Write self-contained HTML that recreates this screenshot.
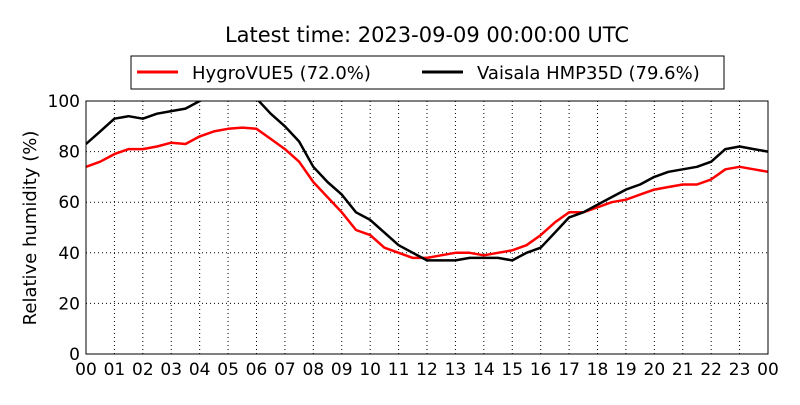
<!DOCTYPE html>
<html><head><meta charset="utf-8"><style>
body{margin:0;background:#fff;width:800px;height:400px;overflow:hidden}
svg{font-family:"DejaVu Sans","Liberation Sans",sans-serif}
</style></head><body>
<svg id="chart" width="800" height="400" xmlns="http://www.w3.org/2000/svg">
<defs><clipPath id="clip"><rect x="86" y="101" width="682" height="253"/></clipPath></defs>
<text x="427" y="42" font-size="21" text-anchor="middle">Latest time: 2023-09-09 00:00:00 UTC</text>
<g>
<rect x="131" y="56" width="593" height="33" fill="#fff" stroke="#000" stroke-width="1"/>
<line x1="137" y1="72" x2="178" y2="72" stroke="#f00" stroke-width="3"/>
<text x="192" y="79" font-size="18">HygroVUE5 (72.0%)</text>
<line x1="422" y1="72" x2="463" y2="72" stroke="#000" stroke-width="3"/>
<text x="477" y="79" font-size="18">Vaisala HMP35D (79.6%)</text>
</g>
<g id="grid"></g>
<g id="series" clip-path="url(#clip)"></g>
<rect x="86" y="101" width="682" height="253" fill="none" stroke="#000" stroke-width="1"/>
<g id="axes"></g>
<text transform="translate(36,228) rotate(-90)" font-size="18" text-anchor="middle">Relative humidity (%)</text>
</svg>
<script>
const hours=[0,0.5,1,1.5,2,2.5,3,3.5,4,4.5,5,5.5,6,6.5,7,7.5,8,8.5,9,9.5,10,10.5,11,11.5,12,12.5,13,13.5,14,14.5,15,15.5,16,16.5,17,17.5,18,18.5,19,19.5,20,20.5,21,21.5,22,22.5,23,23.5,24];
const hygro=[74,76,79,81,81,82,83.5,83,86,88,89,89.5,89,85,81,76,68,62,56,49,47,42,40,38,38,39,40,40,39,40,41,43,47,52,56,56,58,60,61,63,65,66,67,67,69,73,74,73,72];
const vaisala=[83,88,93,94,93,95,96,97,100,103,105,104,101,95,90,84,74,68,63,56,53,48,43,40,37,37,37,38,38,38,37,40,42,48,54,56,59,62,65,67,70,72,73,74,76,81,82,81,80];
const xTicks=["00","01","02","03","04","05","06","07","08","09","10","11","12","13","14","15","16","17","18","19","20","21","22","23","00"];
const yTicks=[0,20,40,60,80,100];
const NS="http://www.w3.org/2000/svg";
const X=h=>86+h*682/24, Y=v=>354-v*253/100;
const grid=document.getElementById('grid'),axes=document.getElementById('axes'),series=document.getElementById('series');
function mk(t,a,p){const e=document.createElementNS(NS,t);for(const k in a)e.setAttribute(k,a[k]);p.appendChild(e);return e;}
xTicks.forEach((t,i)=>{const x=X(i);
 const g=mk('line',{x1:x,x2:x,y1:101,y2:354,stroke:'#000','stroke-dasharray':'1,3','stroke-width':1},grid);
 
 
 const tx=mk('text',{x:x,y:375,'font-size':17,'text-anchor':'middle'},axes);tx.textContent=t;
 
 
});
yTicks.forEach(v=>{const y=Y(v);
 const g=mk('line',{x1:86,x2:768,y1:y,y2:y,stroke:'#000','stroke-dasharray':'1,3','stroke-width':1},grid);
 
 
 const tx=mk('text',{x:80,y:y+6,'font-size':17,'text-anchor':'end'},axes);tx.textContent=v;
 
 
});
function line(vals,color,name){
 const d=vals.map((v,i)=>(i?'L':'M')+X(hours[i]).toFixed(1)+','+Y(v).toFixed(1)).join('');
 const p=mk('path',{d:d,fill:'none',stroke:color,'stroke-width':2.5,'stroke-linejoin':'round'},series);
 
 
}
line(hygro,'#f00','hygrovue5-line');
line(vaisala,'#000','vaisala-line');
</script>
</body></html>
